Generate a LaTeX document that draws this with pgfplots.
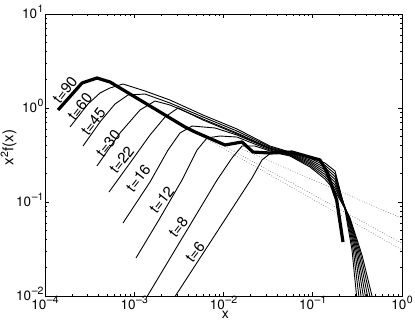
\documentclass[border=0pt]{standalone}
\usepackage{fontspec}
\setmainfont{TeX Gyre Heros}
\usepackage{pgfplots}
\pgfplotsset{compat=1.18}
\newcommand{\tp}[1]{10\kern0.6pt\raisebox{5.5pt}{\fontsize{10.5}{11}\selectfont #1}}
\tikzset{
  curve/.style={black, line width=0.9pt, line join=round},
  fit/.style={gray, line width=0.6pt, dash pattern=on 0.8pt off 1.8pt},
  lab/.style={font=\fontsize{15}{16}\selectfont, rotate=52, inner sep=0pt},
}

\begin{document}
\begin{tikzpicture}
\useasboundingbox (-45pt,-35pt) rectangle (370pt,296pt);
\begin{axis}[
  at={(0pt,0pt)}, anchor=south west,
  scale only axis, width=357pt, height=282pt,
  xmode=log, ymode=log,
  xmin=1e-4, xmax=1, ymin=1e-2, ymax=10,
  xtick={1e-4,1e-3,1e-2,1e-1,1},
  xticklabels={\tp{\textendash4},\tp{\textendash3},\tp{\textendash2},\tp{\textendash1},\tp{0}},
  ytick={1e-2,1e-1,1,10},
  yticklabels={\tp{\textendash2},\tp{\textendash1},\tp{0},\tp{1}},
  tick align=inside, xtick pos=both, ytick pos=both,
  major tick length=4pt, minor tick length=2pt,
  every tick/.style={black, line width=0.5pt},
  xticklabel style={font=\fontsize{13.5}{15}\selectfont, yshift=3pt},
  yticklabel style={font=\fontsize{13.5}{15}\selectfont, yshift=2pt, xshift=2pt},
  xlabel={x}, ylabel={x\textsuperscript{2}f(x)},
  xlabel style={font=\fontsize{14}{16}\selectfont, at={(axis description cs:0.505,-0.067)}, anchor=center},
  ylabel style={font=\fontsize{15}{16}\selectfont, at={(axis description cs:-0.102,0.527)}, anchor=center},
  axis line style={line width=0.8pt},
]
% power-law tails (dotted)
\addplot[fit] coordinates {(1.531e-2,0.3727) (1,0.0671)};
\addplot[fit] coordinates {(5.010e-3,0.5381) (1,0.0309)};
\addplot[fit] coordinates {(7.685e-3,0.4565) (1,0.03635)};

% t=60
\addplot[curve] coordinates {(1.906e-4,0.628) (3.032e-4,1.103) (4.133e-4,1.444) (5.35e-4,1.633) (7.479e-4,1.800) (1.320e-3,1.517) (2.515e-3,1.216) (5.892e-3,0.842) (1.417e-2,0.598) (3.319e-2,0.394) (5.56e-2,0.340) (9.32e-2,0.3011) (0.137,0.2600) (0.178,0.2137) (0.230,0.0822) (0.2754,0.0309) (0.3132,0.00906)};
% t=45
\addplot[curve] coordinates {(2.666e-4,0.394) (4.133e-4,0.710) (6.085e-4,1.103) (8.511e-4,1.375) (1.320e-3,1.409) (2.515e-3,1.130) (5.892e-3,0.802) (1.417e-2,0.569) (3.319e-2,0.385) (5.56e-2,0.3353) (9.32e-2,0.2909) (0.137,0.2457) (0.178,0.1990) (0.2339,0.0800) (0.2855,0.0303) (0.3324,0.00906)};
% t=30
\addplot[curve] coordinates {(3.825e-4,0.242) (6.923e-4,0.542) (1.160e-3,0.952) (1.708e-3,1.187) (2.515e-3,1.076) (5.892e-3,0.764) (1.417e-2,0.542) (3.319e-2,0.375) (5.56e-2,0.3313) (9.32e-2,0.2805) (0.137,0.2323) (0.178,0.1857) (0.238,0.0777) (0.2967,0.0298) (0.3526,0.00906)};
% t=22
\addplot[curve] coordinates {(5.213e-4,0.1277) (8.962e-4,0.260) (1.502e-3,0.516) (2.211e-3,0.802) (3.092e-3,1.000) (5.892e-3,0.745) (1.417e-2,0.529) (3.319e-2,0.3708) (5.56e-2,0.3264) (9.32e-2,0.2710) (0.137,0.2195) (0.178,0.1731) (0.2426,0.0756) (0.3076,0.0293) (0.3742,0.00906)};
% t=16
\addplot[curve] coordinates {(7.479e-4,0.0598) (1.502e-3,0.1632) (2.389e-3,0.357) (3.255e-3,0.542) (4.437e-3,0.6434) (8.031e-3,0.613) (1.417e-2,0.516) (3.319e-2,0.366) (5.56e-2,0.3216) (9.32e-2,0.2619) (0.137,0.2079) (0.178,0.1617) (0.2476,0.0735) (0.3189,0.0287) (0.3962,0.00906)};
% t=12
\addplot[curve] coordinates {(1.046e-3,0.02537) (1.943e-3,0.0676) (3.428e-3,0.171) (5.049e-3,0.357) (6.534e-3,0.4797) (9.138e-3,0.5036) (1.417e-2,0.491) (3.319e-2,0.357) (5.56e-2,0.3170) (9.32e-2,0.2531) (0.137,0.1965) (0.178,0.1506) (0.2522,0.0715) (0.3306,0.0283) (0.4203,0.00906)};
% t=8
\addplot[curve] coordinates {(1.160e-3,0.00727) (1.426e-3,0.01025) (8.456e-3,0.171) (1.245e-2,0.294) (1.612e-2,0.394) (2.254e-2,0.394) (3.319e-2,0.349) (5.56e-2,0.3131) (9.32e-2,0.2439) (0.137,0.1857) (0.178,0.1406) (0.2567,0.0694) (0.3436,0.0278) (0.4460,0.00906)};
% t=6
\addplot[curve] coordinates {(2.389e-3,0.00764) (2.936e-3,0.01025) (2.086e-2,0.180) (2.700e-2,0.280) (3.494e-2,0.340) (5.56e-2,0.3086) (9.32e-2,0.2357) (0.137,0.1756) (0.178,0.1309) (0.2615,0.0676) (0.3563,0.0273) (0.4732,0.00906)};

% t=90 (thick)
\addplot[black, line width=3.2pt, line join=round] coordinates {(1.40e-4,0.952) (2.60e-4,1.845) (3.825e-4,2.085) (5.35e-4,1.891) (2.515e-3,0.783) (3.704e-3,0.628) (4.795e-3,0.556) (1.039e-2,0.404) (1.612e-2,0.435) (2.141e-2,0.340) (3.319e-2,0.332) (5.855e-2,0.340) (0.1206,0.280) (0.1444,0.2085) (0.1854,0.105) (0.2183,0.0375)};

\node[lab] at (axis cs:1.675e-4,1.554) {t=90};
\node[lab] at (axis cs:2.467e-4,1.032) {t=60};
\node[lab] at (axis cs:3.477e-4,0.715) {t=45};
\node[lab] at (axis cs:5.120e-4,0.421) {t=30};
\node[lab] at (axis cs:7.235e-4,0.280) {t=22};
\node[lab] at (axis cs:1.110e-3,0.1787) {t=16};
\node[lab] at (axis cs:2.030e-3,0.105) {t=12};
\node[lab] at (axis cs:3.117e-3,0.0546) {t=8};
\node[lab] at (axis cs:4.795e-3,0.0296) {t=6};
\end{axis}
\end{tikzpicture}
\end{document}
